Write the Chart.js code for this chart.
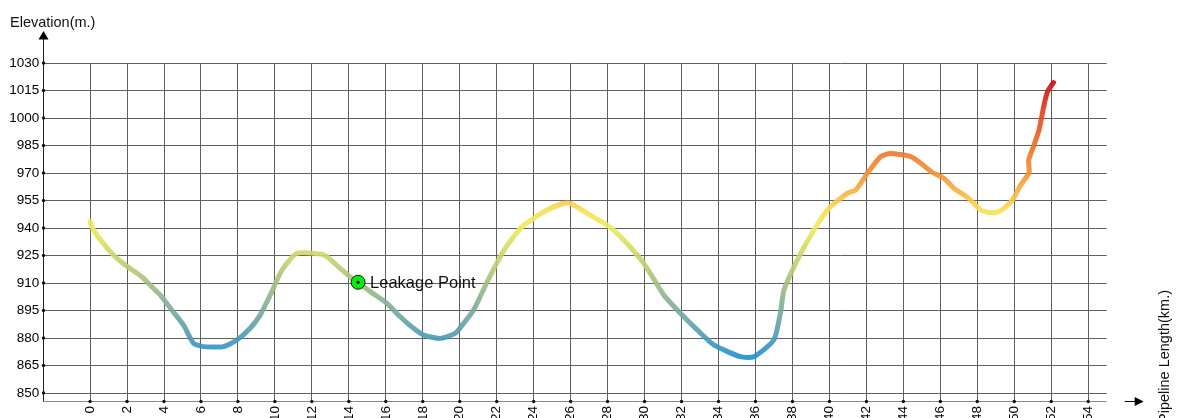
<!DOCTYPE html>
<html lang="en">
<head>
<meta charset="UTF-8">
<title>Pipeline Elevation Profile</title>
<script src="https://cdn.jsdelivr.net/npm/chart.js"></script>
<style>
  html, body { margin: 0; padding: 0; background: #fff; }
  #wrap { position: relative; width: 1178px; height: 418px; }
</style>
</head>
<body>
<div id="wrap"><canvas id="profile"></canvas></div>
<script>
// Profile (km along pipe, metres)
const distanceKm = [0.0, 0.18, 0.72, 1.26, 1.9, 2.8, 3.25, 3.79, 4.42, 5.05, 5.6, 6.13, 7.22, 7.94, 8.66, 9.2, 9.75,
  10.38, 11.19, 12.45, 12.82, 13.53, 14.17, 14.5, 15.16, 16.06, 16.78, 17.5, 18.05, 18.95, 19.76, 20.21, 20.75,
  21.55, 22.4, 23.3, 24.0, 24.73, 25.63, 25.99, 26.89, 27.97, 28.87, 29.96, 31.04, 31.94, 32.85, 33.75, 35.19,
  35.91, 36.99, 37.36, 37.54, 38.26, 39.16, 39.97, 40.97, 41.42, 42.05, 42.77, 43.31, 44.4, 44.94, 45.55, 46.2,
  46.74, 47.47, 48.19, 48.73, 49.27, 49.9, 50.35, 50.8, 50.78, 51.07, 51.34, 51.61, 51.8, 52.12];
const elevationM = [943.5, 939, 931.6, 925.3, 919.8, 913.4, 908.9, 903.5, 895.3, 887.1, 877.1, 875.3, 875.3, 878.9, 885.3, 892.5, 903.5,
  917.1, 926.2, 925.8, 924.3, 918, 912.6, 910.4, 905.3, 898.9, 891.6, 885.3, 881.6, 879.8, 882.6, 888, 895.3,
  912, 928, 940, 945.3, 949.8, 953.5, 953.5, 948, 941.6, 933.5, 920.7, 903.5, 893.5, 884.4, 876.2, 869.8,
  869.8, 878.9, 894.4, 906.2, 922.5, 938.9, 950.7, 958.9, 960.7, 969.8, 978.9, 980.7, 978.9, 975.3, 970.4, 967,
  961.6, 956.7, 949.8, 948.3, 949.4, 955.3, 963.5, 970.2, 977, 985.3, 993.5, 1007.1, 1014.4, 1019.3];

const leakKm = [14.5];
const leakElev = [910.4];
const leakLabel = 'Leakage Point';

const xTicks = [0, 2, 4, 6, 8, 10, 12, 14, 16, 18, 20, 22, 24, 26, 28, 30, 32, 34, 36, 38, 40, 42, 44, 46, 48, 50, 52, 54];
const yTicks = [850, 865, 880, 895, 910, 925, 940, 955, 970, 985, 1000, 1015, 1030];

const FONT = '"Liberation Sans", Arial, sans-serif';

// colour follows elevation: blue low -> yellow -> red high
const colorStops = [
  [869, 'rgba(26,143,208,0.9)'],
  [880, 'rgba(74,154,181,0.9)'],
  [895, 'rgba(122,169,156,0.9)'],
  [910, 'rgba(164,189,128,0.9)'],
  [925, 'rgba(203,213,106,0.9)'],
  [940, 'rgba(236,234,92,0.9)'],
  [950, 'rgba(248,223,80,0.9)'],
  [958, 'rgba(247,184,68,0.9)'],
  [970, 'rgba(240,144,48,0.9)'],
  [982, 'rgba(239,116,40,0.9)'],
  [1000, 'rgba(226,74,32,0.9)'],
  [1020, 'rgba(207,15,16,0.92)']
];

function lineGradient(context) {
  const chart = context.chart;
  if (!chart.chartArea) return colorStops[0][1];
  const y = chart.scales.y;
  const lo = colorStops[0][0], hi = colorStops[colorStops.length - 1][0];
  const g = chart.ctx.createLinearGradient(0, y.getPixelForValue(lo), 0, y.getPixelForValue(hi));
  colorStops.forEach(([v, c]) => g.addColorStop((v - lo) / (hi - lo), c));
  return g;
}

// axes with arrows, tick dots, titles, leak label
const decorations = {
  id: 'decorations',
  afterDraw(chart) {
    const { ctx, chartArea: a, scales: { x, y } } = chart;
    const ax = Math.round(a.left) + 0.5;
    const ay = Math.round(a.bottom) + 0.5;
    ctx.save();

    // x axis
    ctx.strokeStyle = '#8a8a8a';
    ctx.lineWidth = 1;
    ctx.beginPath(); ctx.moveTo(a.left, ay); ctx.lineTo(a.right, ay); ctx.stroke();
    ctx.strokeStyle = '#000';
    ctx.beginPath(); ctx.moveTo(a.right + 18, ay); ctx.lineTo(a.right + 30, ay); ctx.stroke();
    ctx.fillStyle = '#000';
    ctx.beginPath();
    ctx.moveTo(a.right + 37, ay); ctx.lineTo(a.right + 28, ay - 4.5); ctx.lineTo(a.right + 28, ay + 4.5);
    ctx.closePath(); ctx.fill();

    // y axis
    ctx.strokeStyle = '#222';
    ctx.beginPath(); ctx.moveTo(ax, ay); ctx.lineTo(ax, 38); ctx.stroke();
    ctx.beginPath();
    ctx.moveTo(ax, 31); ctx.lineTo(ax - 5, 39.5); ctx.lineTo(ax + 5, 39.5);
    ctx.closePath(); ctx.fill();

    // tick dots
    ctx.fillStyle = '#111';
    xTicks.forEach(v => {
      ctx.beginPath(); ctx.arc(x.getPixelForValue(v), ay, 1.7, 0, Math.PI * 2); ctx.fill();
    });
    yTicks.forEach(v => {
      ctx.beginPath(); ctx.arc(ax, y.getPixelForValue(v), 1.7, 0, Math.PI * 2); ctx.fill();
    });

    // leak point centre + label
    const lx = x.getPixelForValue(leakKm[0]);
    const ly = y.getPixelForValue(leakElev[0]);
    ctx.beginPath(); ctx.arc(lx, ly, 1.6, 0, Math.PI * 2); ctx.fill();
    ctx.font = '16.5px ' + FONT;
    ctx.textAlign = 'left';
    ctx.textBaseline = 'middle';
    ctx.fillText(leakLabel, lx + 12, ly + 1);

    // axis titles
    ctx.fillStyle = '#111';
    ctx.font = '14.5px ' + FONT;
    ctx.textBaseline = 'alphabetic';
    ctx.fillText('Elevation(m.)', 10, 26.5);
    ctx.translate(1169, 290);
    ctx.rotate(-Math.PI / 2);
    ctx.textAlign = 'right';
    ctx.fillText('Pipeline Length(km.)', 0, 0);
    ctx.restore();
  }
};

new Chart(document.getElementById('profile'), {
  type: 'line',
  data: {
    datasets: [{
      label: 'leak',
      data: leakKm.map((d, i) => ({ x: d, y: leakElev[i] })),
      showLine: false,
      pointRadius: 7,
      pointBackgroundColor: '#0bea0b',
      pointBorderColor: '#1a1a1a',
      pointBorderWidth: 1,
      order: 0
    }, {
      label: 'Elevation',
      data: distanceKm.map((d, i) => ({ x: d, y: elevationM[i] })),
      borderColor: lineGradient,
      borderWidth: 5,
      borderCapStyle: 'round',
      borderJoinStyle: 'round',
      tension: 0.2,
      pointRadius: 0,
      fill: false,
      order: 1
    }]
  },
  options: {
    responsive: true,
    maintainAspectRatio: false,
    animation: false,
    layout: { padding: { left: 0, top: 63, right: 71.3, bottom: 0 } },
    plugins: { legend: { display: false }, tooltip: { enabled: false } },
    scales: {
      x: {
        type: 'linear',
        min: -2.53,
        max: 55,
        afterBuildTicks: s => { s.ticks = xTicks.map(v => ({ value: v })); },
        afterFit: s => { s.height = 17; },
        grid: { color: '#606060', lineWidth: 1, drawTicks: false },
        border: { display: false },
        ticks: {
          autoSkip: false,
          minRotation: 90,
          maxRotation: 90,
          padding: 5,
          color: '#000',
          font: { family: FONT, size: 13.5 },
          callback: v => String(v)
        }
      },
      y: {
        type: 'linear',
        min: 845.64,
        max: 1030,
        afterBuildTicks: s => { s.ticks = yTicks.map(v => ({ value: v })); },
        afterFit: s => { s.width = 43.3; },
        grid: { color: '#606060', lineWidth: 1, drawTicks: false },
        border: { display: false },
        ticks: {
          padding: 4,
          color: '#000',
          font: { family: FONT, size: 13.5 },
          callback: v => String(v)
        }
      }
    }
  },
  plugins: [decorations]
});
</script>
</body>
</html>
